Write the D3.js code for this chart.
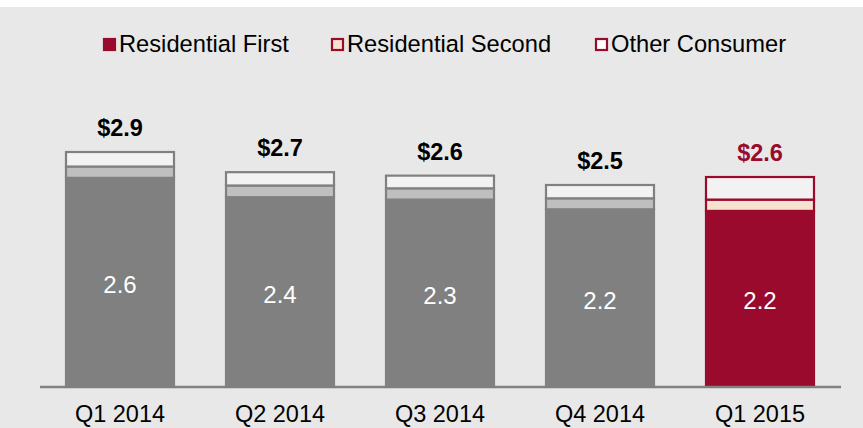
<!DOCTYPE html>
<html>
<head>
<meta charset="utf-8">
<script src="https://cdn.jsdelivr.net/npm/d3@7"></script>
<style>
  body { margin: 0; background: #ffffff; }
  svg { display: block; font-family: "Liberation Sans", Arial, sans-serif; }
</style>
</head>
<body>
<svg id="chart" width="863" height="428"></svg>
<script>
// chart data
var quarters = ["Q1 2014", "Q2 2014", "Q3 2014", "Q4 2014", "Q1 2015"];
var residentialFirst = [2.58, 2.34, 2.31, 2.19, 2.17];
var residentialSecond = [0.14, 0.145, 0.14, 0.136, 0.14];
var otherConsumer = [0.18, 0.165, 0.157, 0.165, 0.28];
var firstLabels = ["2.6", "2.4", "2.3", "2.2", "2.2"];
var totalLabels = ["$2.9", "$2.7", "$2.6", "$2.5", "$2.6"];
var seriesNames = ["Residential First", "Residential Second", "Other Consumer"];

var W = 863, H = 428;
var svg = d3.select("#chart");

var red = "#9a0a2d";
var greyFills = ["#808080", "#bfbfbf", "#f2f2f2"];
var redFills = [red, "#f5e3d0", "#f2f2f2"];

// background: light grey panel with a thin white band on top
svg.append("rect").attr("x", 0).attr("y", 0).attr("width", W).attr("height", H).attr("fill", "#ffffff");
svg.append("rect").attr("x", 0).attr("y", 7).attr("width", W).attr("height", H - 7).attr("fill", "#e8e8e8");

var x = d3.scaleBand().domain(quarters).range([40, 840]).paddingInner(0.325).paddingOuter(0.1625);
var y = d3.scaleLinear().domain([0, 2.9]).range([386, 152]);

// stack the three series
var rows = quarters.map(function (q, i) {
    return { q: q, i: i, first: residentialFirst[i], second: residentialSecond[i], other: otherConsumer[i] };
});
var stack = d3.stack().keys(["first", "second", "other"]);
var layers = stack(rows);

var isLast = function (i) { return i === quarters.length - 1; };

var g = svg.append("g");
layers.forEach(function (layer, k) {
    g.selectAll(".seg" + k).data(layer).enter().append("rect")
        .attr("x", function (d) { return x(d.data.q); })
        .attr("width", x.bandwidth())
        .attr("y", function (d) { return y(d[1]); })
        .attr("height", function (d) { return y(d[0]) - y(d[1]); })
        .attr("fill", function (d) { return isLast(d.data.i) ? redFills[k] : greyFills[k]; })
        .attr("stroke", function (d) { return isLast(d.data.i) ? red : "#808080"; })
        .attr("stroke-width", 2.2);
});

// value labels inside first segment
g.selectAll(".inner").data(rows).enter().append("text")
    .attr("x", function (d) { return x(d.q) + x.bandwidth() / 2; })
    .attr("y", function (d) { return (y(0) + y(d.first)) / 2 + 11; })
    .attr("text-anchor", "middle")
    .attr("font-size", 24)
    .attr("fill", "#ffffff")
    .text(function (d) { return firstLabels[d.i]; });

// totals above bars
g.selectAll(".total").data(rows).enter().append("text")
    .attr("x", function (d) { return x(d.q) + x.bandwidth() / 2; })
    .attr("y", function (d) { return y(d.first + d.second + d.other) - 16; })
    .attr("text-anchor", "middle")
    .attr("font-size", 23.5)
    .attr("font-weight", "bold")
    .attr("fill", function (d) { return isLast(d.i) ? red : "#000000"; })
    .text(function (d) { return totalLabels[d.i]; });

// x axis
var xAxis = svg.append("g").attr("transform", "translate(0," + y(0) + ")")
    .call(d3.axisBottom(x).tickSize(0).tickPadding(19));
xAxis.select(".domain").attr("d", "M40,1H841").attr("stroke", "#808080").attr("stroke-width", 2.6);
xAxis.selectAll("text").attr("font-size", 23.5).attr("fill", "#000000")
    .attr("font-family", "'Liberation Sans', Arial, sans-serif");

// legend
var legendX = [103, 331, 595];
var legend = svg.append("g");
seriesNames.forEach(function (name, k) {
    legend.append("rect")
        .attr("x", legendX[k] + 1).attr("y", 39)
        .attr("width", 11).attr("height", 11)
        .attr("fill", redFills[k] === "#f2f2f2" ? "#ffffff" : redFills[k])
        .attr("stroke", red).attr("stroke-width", 2.2);
    legend.append("text")
        .attr("x", legendX[k] + 16).attr("y", 52)
        .attr("font-size", 23.7).attr("fill", "#000000")
        .text(name);
});
</script>
</body>
</html>
